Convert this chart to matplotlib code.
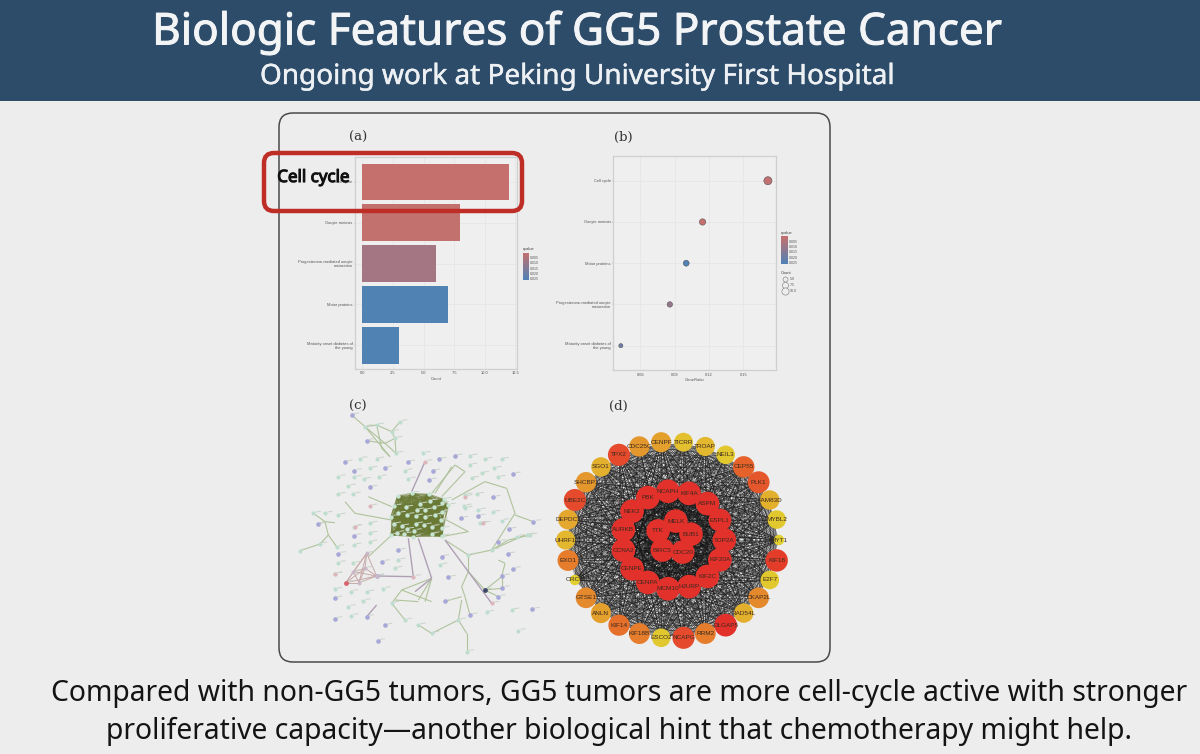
import itertools
import numpy as np
import matplotlib
matplotlib.use("Agg")
import matplotlib.pyplot as plt
import matplotlib.patheffects as pe
from matplotlib.colors import LinearSegmentedColormap
from matplotlib.patches import FancyBboxPatch, Rectangle
from matplotlib.collections import LineCollection

# ---- slide text ----
TITLE = "Biologic Features of GG5 Prostate Cancer"
SUBTITLE = "Ongoing work at Peking University First Hospital"
CONCLUSION_1 = "Compared with non-GG5 tumors, GG5 tumors are more cell-cycle active with stronger"
CONCLUSION_2 = "proliferative capacity\u2014another biological hint that chemotherapy might help."

# ---- enrichment results ----
bar_terms = ["Cell cycle", "Oocyte meiosis", "Progesterone-mediated oocyte\nmaturation",
             "Motor proteins", "Maturity onset diabetes of\nthe young"]
bar_counts = [12, 8, 6, 7, 3]
bar_q = [0.0012, 0.0016, 0.0082, 0.0255, 0.0255]

dot_terms = ["Cell cycle", "Oocyte meiosis", "Motor proteins",
             "Progesterone-mediated oocyte\nmaturation", "Maturity onset diabetes of\nthe young"]
dot_ratio = [0.1714, 0.1143, 0.1000, 0.0857, 0.0429]
dot_counts = [12, 8, 7, 6, 3]
dot_q = [0.0020, 0.0012, 0.0255, 0.0110, 0.0200]

q_ticks = [0.005, 0.010, 0.015, 0.020, 0.025]
count_ticks = [5.0, 7.5, 10.0]

# ---- hub gene network: names and degree per ring, clockwise ----
outer_genes = ["TICRR", "TROAP", "NEIL3", "CEP55", "PLK1", "FAM83D", "MYBL2", "MYT1", "KIF18", "E2F7",
               "CKAP2L", "RAD54L", "DLGAP5", "RRM2", "NCAPG", "ESCO2", "KIF18B", "KIF14", "ANLN", "GTSE1",
               "ORC6", "EXO1", "UHRF1", "DEPDC1", "UBE2C", "SHCBP1", "SGO1", "TPX2", "CDC25C", "CENPF"]
outer_degree = [29, 30, 28, 38, 39, 31, 28, 19, 41, 28,
                35, 31, 42, 36, 40, 28, 36, 37, 33, 35,
                19, 36, 30, 32, 40, 34, 31, 40, 34, 33]
middle_genes = ["NCAPH", "KIF4A", "ASPM", "ESPL1", "TOP2A", "KIF20A", "KIF2C", "HJURP",
                "MCM10", "CENPA", "CENPE", "CCNA2", "AURKB", "NEK2", "PBK"]
middle_degree = [45] * 15
middle_degree[3] = 42
inner_genes = ["MELK", "BUB1", "CDC20", "BIRC5", "TTK"]
inner_degree = [45, 45, 45, 45, 45]

# ---- protein interaction network, nodes and edges as (x, y) on the panel's own grid ----
lilac_nodes = [(180,186),(208,212),(300,204),(368,186),(462,178),(510,168),(443,213),(433,240),(255,262),
               (528,355),(580,348),(625,292),(685,222),(207,407),(160,461),(292,485),(340,451),(470,470),
               (490,532),(150,594),(150,656),(245,650),(672,388),(640,425),(668,462),(685,506),(652,528),
               (652,563),(640,590),(480,604),(555,645),(742,628),(300,676),(278,722),(745,365),(200,45),
               (245,122),(100,372),(275,528)]
mint_nodes = [(225,176),(275,177),(160,230),(208,232),(255,205),(236,238),(283,230),(360,212),(370,237),
              (415,160),(555,168),(555,195),(600,178),(628,205),(590,220),(640,232),(650,178),(560,235),
              (160,283),(205,282),(190,258),(120,340),(160,345),(255,370),(207,380),(255,400),(207,435),
              (255,426),(160,488),(205,490),(150,522),(150,568),(197,575),(245,576),(295,566),(190,620),
              (235,602),(198,647),(340,480),(330,505),(465,495),(538,318),(575,283),(540,285),(540,325),
              (580,330),(623,337),(585,370),(650,362),(695,410),(725,405),(700,692),(680,630),(605,637),
              (85,340),(45,452),(105,432),(155,440),(345,65),(333,160),(275,75),(240,80),(320,95),(330,115),
              (545,755),(440,700),(400,675),(360,660),(320,610),(520,660),(620,450),(550,465),(735,405)]
pink_nodes = [(420,185),(255,318),(210,380),(540,290),(595,370),(385,530),(620,610),(150,522)]
red_nodes = [(183,548)]
dark_nodes = [(600,570)]
core_nodes = [(338,288),(380,280),(432,283),(328,318),(362,322),(405,312),(435,303),(470,310),(490,315),
              (340,340),(366,344),(395,330),(420,330),(448,322),(470,335),(326,372),(350,378),(392,348),
              (420,352),(450,345),(468,360),(336,398),(365,388),(392,372),(418,375),(440,380),(472,385),
              (358,402),(388,392),(440,402),(470,408),(318,405),(385,410),(318,350),(478,298)]

sage_edges = [((200,45),(240,80)),((240,80),(275,75)),((275,75),(320,95)),((320,95),(345,65)),((240,80),(300,130)),
              ((245,122),(300,130)),((300,130),(330,115)),((330,115),(333,160)),((300,130),(333,160)),
              ((240,80),(315,170)),((275,75),(290,145)),((320,95),(330,115)),((290,145),(315,170)),
              ((85,340),(120,365)),((120,365),(150,368)),((100,372),(120,365)),((120,365),(130,405)),
              ((130,405),(155,440)),((130,405),(105,432)),((105,432),(45,452)),
              ((510,195),(440,280)),((540,215),(470,290)),((500,200),(450,280)),((510,195),(540,215)),
              ((600,245),(500,300)),((600,245),(665,265)),((665,265),(690,340)),((690,340),(620,450)),
              ((620,450),(550,465)),((690,345),(745,365)),((475,355),(550,395)),((470,410),(550,395)),
              ((550,465),(480,420)),((550,465),(550,515)),((550,515),(600,570)),((600,570),(650,530)),
              ((600,570),(650,565)),((600,570),(640,590)),((550,515),(530,560)),((530,560),(540,590)),
              ((540,590),(555,645)),((530,590),(480,604)),((530,600),(520,660)),((520,660),(480,680)),
              ((480,680),(440,700)),((440,700),(400,675)),((520,660),(545,700)),((545,700),(545,755)),
              ((640,480),(660,490)),((660,490),(650,530)),((650,530),(650,565)),((440,535),(350,570)),
              ((350,570),(320,610)),((440,535),(400,600)),((440,535),(420,605)),((350,570),(440,605)),
              ((330,600),(400,605)),((320,610),(360,660)),((620,450),(670,420)),((670,420),(735,405)),
              ((620,450),(720,405)),((180,305),(210,340)),((210,340),(320,360)),((320,405),(250,470)),
              ((250,290),(320,320))]
mauve_edges = [((420,185),(380,275)),((400,415),(440,535)),((370,415),(385,530)),((275,528),(385,530)),
               ((275,615),(245,650)),((440,535),(390,575)),((480,420),(620,610))]
cluster_nodes = [(183,548),(205,515),(245,460),(275,528),(240,505),(222,548)]

# ---- colours ----
BG = "#EDEDED"
HEADER = "#2D4C6A"
PANEL_BG = "#EFEFEF"
q_cmap = LinearSegmentedColormap.from_list("q", ["#C8706C", "#4E82B6"])
Q_TOP, Q_BOTTOM = 0.0006, 0.0262


def q_colour(q):
    return q_cmap((q - Q_TOP) / (Q_BOTTOM - Q_TOP))


def pixel_axes(fig, left, top, right, bottom):
    w, h = fig.get_size_inches() * fig.dpi
    return fig.add_axes([left / w, 1 - bottom / h, (right - left) / w, (bottom - top) / h])


def heavier(artist, width, colour):
    # thickens a regular-weight face to the semi-bold look of the slide's headings
    artist.set_path_effects([pe.withStroke(linewidth=width, foreground=colour)])


fig = plt.figure(figsize=(12, 7.54), dpi=100, facecolor=BG)

# slide background, in pixel coordinates
slide = fig.add_axes([0, 0, 1, 1], zorder=0)
slide.set_xlim(0, 1200)
slide.set_ylim(754, 0)
slide.axis("off")
slide.add_patch(Rectangle((0, 0), 1200, 101, fc=HEADER, ec="none"))
slide.add_patch(FancyBboxPatch((291, 125), 527, 525, boxstyle="round,pad=12,rounding_size=14",
                               fc=BG, ec="#4A4A4A", lw=1.1))
heavier(slide.text(577, 33, TITLE, color="#F2F4F6", ha="center", va="center", family="Noto Sans",
                   fontsize=31.7), 0.7, "#F2F4F6")
heavier(slide.text(577, 77, SUBTITLE, color="#EEF1F4", ha="center", va="center", family="Noto Sans",
                   fontsize=20.1), 0.3, "#EEF1F4")
slide.text(619, 694, CONCLUSION_1, color="#141414", ha="center", va="center", family="Noto Sans", fontsize=20.4)
slide.text(619, 731, CONCLUSION_2, color="#141414", ha="center", va="center", family="Noto Sans", fontsize=20.4)
for label, x, y in [("(a)", 358.5, 137), ("(b)", 623, 137), ("(c)", 358, 406), ("(d)", 618.5, 406)]:
    slide.text(x, y, label, color="#333333", ha="center", va="center", family="DejaVu Serif", fontsize=9.5)

SMALL = dict(family="Liberation Sans", color="#555555")


def style_enrichment(ax, terms):
    ax.set_facecolor(PANEL_BG)
    for s in ax.spines.values():
        s.set_color("#CFCFCF")
        s.set_linewidth(0.9)
    ax.grid(True, color="#E4E4E4", lw=0.5)
    ax.set_axisbelow(True)
    ax.set_yticks(range(len(terms)))
    ax.set_yticklabels(terms, fontsize=2.9, linespacing=1.0, **SMALL)
    ax.tick_params(length=0.8, width=0.3, color="#999999", pad=1)
    for t in ax.get_xticklabels():
        t.set_fontsize(2.9)
        t.set_family("Liberation Sans")
        t.set_color("#555555")


def q_legend(left, top, right, bottom):
    cb = pixel_axes(fig, left, top, right, bottom)
    cb.imshow(np.linspace(0, 1, 128)[:, None], cmap=q_cmap, aspect="auto",
              extent=[0, 1, Q_BOTTOM, Q_TOP])
    cb.set_ylim(Q_BOTTOM, Q_TOP)
    cb.set_xticks([])
    cb.yaxis.tick_right()
    cb.set_yticks(q_ticks)
    cb.set_yticklabels([f"{v:.3f}" for v in q_ticks], fontsize=2.5, **SMALL)
    cb.tick_params(axis="y", length=0, pad=1)
    for s in cb.spines.values():
        s.set_visible(False)
    slide.text(left, top - 3.5, "qvalue", fontsize=2.9, ha="left", va="center", family="Liberation Sans", color="#444444")


# (a) bar chart of term counts
ax_a = pixel_axes(fig, 355, 157, 517, 369)
ax_a.barh(range(len(bar_terms)), bar_counts, height=0.9, color=[q_colour(q) for q in bar_q])
ax_a.set_xlim(-0.6, 12.63)
ax_a.set_ylim(4.58, -0.61)
ax_a.set_xticks([0, 2.5, 5, 7.5, 10, 12.5])
ax_a.set_xticklabels(["0.0", "2.5", "5.0", "7.5", "10.0", "12.5"])
style_enrichment(ax_a, bar_terms)
ax_a.set_xlabel("Count", fontsize=3, labelpad=1, **SMALL)
q_legend(522.7, 252.7, 528.7, 280)


def dot_area(count):
    return (2.0 + 0.32 * count) ** 2


# (b) dot plot of gene ratios
ax_b = pixel_axes(fig, 613.3, 156, 775.7, 370)
ax_b.scatter(dot_ratio, range(len(dot_terms)), s=[dot_area(c) for c in dot_counts],
             c=[q_colour(q) for q in dot_q], edgecolors="#4A4A55", linewidths=0.35, zorder=3)
ax_b.set_xlim(0.0363, 0.1782)
ax_b.set_ylim(4.59, -0.6)
ax_b.set_xticks([0.06, 0.09, 0.12, 0.15])
ax_b.set_xticklabels(["0.06", "0.09", "0.12", "0.15"])
style_enrichment(ax_b, dot_terms)
ax_b.set_xlabel("GeneRatio", fontsize=3, labelpad=1, **SMALL)
q_legend(781, 236.3, 787.3, 264)
slide.text(781, 273, "Count", fontsize=2.9, ha="left", va="center", family="Liberation Sans", color="#444444")
for value, y in zip(count_ticks, [279, 285, 291]):
    slide.scatter([784.5], [y], s=dot_area(value), fc=BG, ec="#777777", lw=0.4, zorder=3)
    slide.text(789.5, y, f"{value:.1f}", fontsize=2.5, ha="left", va="center", **SMALL)

# (c) protein interaction network, axes span the panel's own grid
ax_c = pixel_axes(fig, 285, 400, 550, 655)
ax_c.set_xlim(0, 795)
ax_c.set_ylim(765, 0)
ax_c.axis("off")
ax_c.patch.set_alpha(0)
core_pairs = list(itertools.combinations(core_nodes, 2))
ax_c.add_collection(LineCollection(core_pairs, colors="#6A7A35", linewidths=0.8, alpha=0.6, zorder=1))
ax_c.add_collection(LineCollection(sage_edges, colors="#AFC39B", linewidths=0.8, zorder=1))
ax_c.add_collection(LineCollection(mauve_edges, colors="#AFA0B5", linewidths=1.0, zorder=1))
ax_c.add_collection(LineCollection(list(itertools.combinations(cluster_nodes, 2)),
                                   colors="#C9A9A9", linewidths=0.7, zorder=1))
for nodes, colour, s in [(lilac_nodes, "#A8A8D8", 11), (mint_nodes, "#BFDDCF", 9), (pink_nodes, "#DDB5BC", 9),
                         (core_nodes, "#C7E3D2", 10), (cluster_nodes, "#C9B8C8", 8),
                         (red_nodes, "#D9636B", 12), (dark_nodes, "#3E4868", 12)]:
    xy = np.array(nodes)
    ax_c.scatter(xy[:, 0], xy[:, 1], s=s, c=colour, linewidths=0, zorder=3)
    # each node carries an illegibly small name tag at its upper right
    tags = [((x + 7, y - 4), (x + 22, y - 6)) for x, y in nodes]
    ax_c.add_collection(LineCollection(tags, colors="#C9D3C9", linewidths=0.7, zorder=2))

# (d) hub gene network laid out as three concentric rings
ax_d = pixel_axes(fig, 550, 425, 800, 655)
ax_d.set_xlim(0, 750)
ax_d.set_ylim(690, 0)
ax_d.axis("off")
ax_d.patch.set_alpha(0)


def ring(n, cx, cy, rx, ry, start, step):
    angles = np.radians(start + step * np.arange(n))
    return np.column_stack([cx + rx * np.sin(angles), cy - ry * np.cos(angles)])


outer_xy = ring(len(outer_genes), 367, 345, 320, 295, 6, 12)
middle_xy = ring(len(middle_genes), 370, 345, 153, 147, -6, 24)
inner_xy = ring(len(inner_genes), 372, 338, 52, 50, 6, 72)

edges = []
edges += [(a, b) for a in outer_xy for b in middle_xy]
edges += [(a, b) for a in outer_xy for b in inner_xy]
edges += [(a, b) for a, b in itertools.combinations(middle_xy, 2)]
edges += [(a, b) for a in middle_xy for b in inner_xy]
edges += [(a, b) for a, b in itertools.combinations(inner_xy, 2)]
edges += [(outer_xy[i], outer_xy[(i + k) % 30]) for i in range(30) for k in range(3, 15)]
ax_d.add_collection(LineCollection(edges, colors="#161616", linewidths=0.36, alpha=0.7, zorder=1))

deg_cmap = LinearSegmentedColormap.from_list(
    "degree", [(0, "#E2D02F"), (0.45, "#E49A2C"), (0.75, "#E5602B"), (1, "#E2302A")])
for names, degrees, xy in [(outer_genes, outer_degree, outer_xy),
                           (middle_genes, middle_degree, middle_xy),
                           (inner_genes, inner_degree, inner_xy)]:
    degrees = np.array(degrees, float)
    radius_px = np.interp(degrees, [19, 28, 45], [5.2, 9.3, 11.8])
    ax_d.scatter(xy[:, 0], xy[:, 1], s=(radius_px * 2 * 0.72) ** 2,
                 c=deg_cmap(np.clip((degrees - 27) / 15, 0, 1)), linewidths=0, zorder=3)
    for name, (x, y) in zip(names, xy):
        ax_d.text(x, y, name, fontsize=4.6, ha="center", va="center", color="#3A2A20",
                  family="Liberation Sans", zorder=4)

# callout on the top term of panel (a)
overlay = fig.add_axes([0, 0, 1, 1], zorder=5)
overlay.set_xlim(0, 1200)
overlay.set_ylim(754, 0)
overlay.axis("off")
overlay.patch.set_alpha(0)
overlay.add_patch(FancyBboxPatch((273, 162), 240, 40, boxstyle="round,pad=9,rounding_size=10",
                                 fc="none", ec="#BE2E26", lw=3.2))
heavier(overlay.text(313.5, 178, "Cell cycle", fontsize=12.2, family="Noto Sans",
                     ha="center", va="center", color="#111111"), 0.8, "#111111")

fig.savefig("out.png", dpi=100, facecolor=BG)
